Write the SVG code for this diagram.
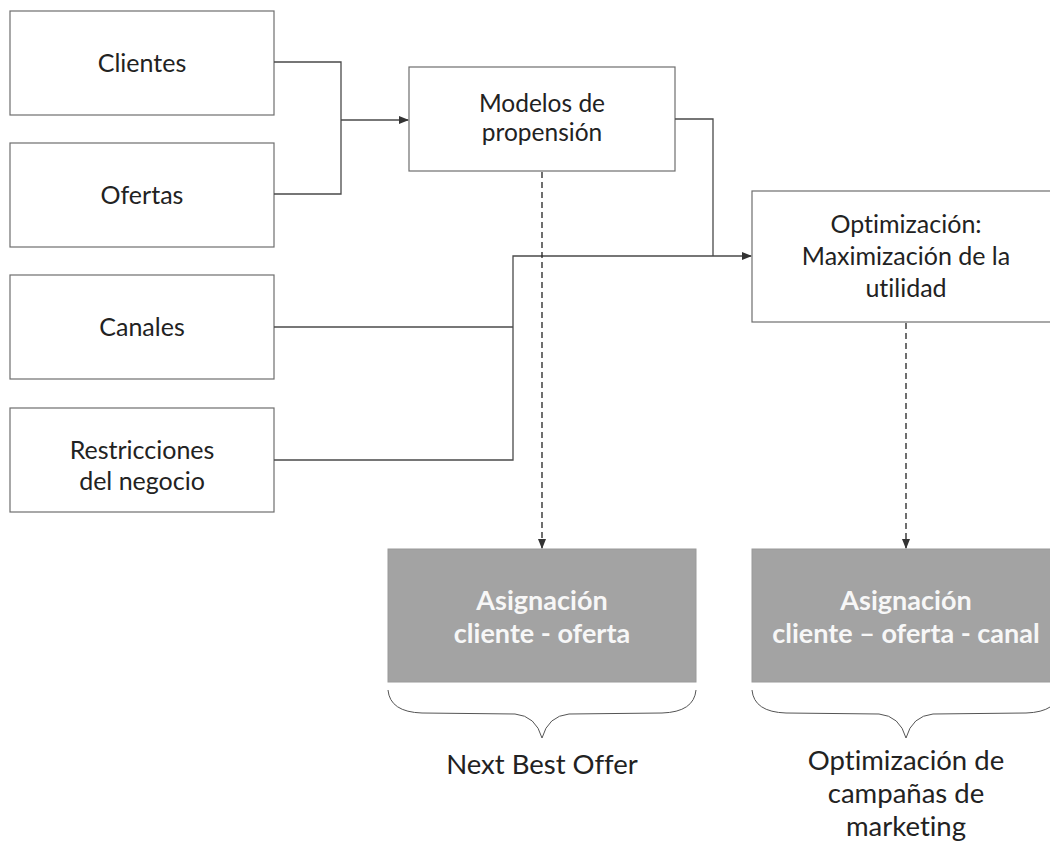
<svg xmlns="http://www.w3.org/2000/svg" width="1050" height="844" viewBox="0 0 1050 844">
<defs>
<style>
text{font-variant-ligatures:none;font-feature-settings:"liga" 0,"dlig" 0}
.box{fill:#ffffff;stroke:#6e6e6e;stroke-width:1.2}
.gbox{fill:#a3a3a3;stroke:#9a9a9a;stroke-width:1}
.t{font-family:Lato,"Open Sans",sans-serif;font-size:25px;fill:#222;text-anchor:middle}
.m{font-size:24.5px}
.g{font-family:Lato,"Open Sans",sans-serif;font-size:27px;font-weight:700;fill:#f7f7f7;text-anchor:middle}
.b{font-family:Lato,"Open Sans",sans-serif;font-size:27.5px;fill:#222;text-anchor:middle}
.ln{fill:none;stroke:#4a4a4a;stroke-width:1.3}
.dash{fill:none;stroke:#222;stroke-width:1.3;stroke-dasharray:6,4}
.brace{fill:none;stroke:#555;stroke-width:1}
</style>
<marker id="ah" markerWidth="10" markerHeight="8" refX="9" refY="4" orient="auto" markerUnits="userSpaceOnUse">
<path d="M0,0 L10,4 L0,8 Z" fill="#333"/>
</marker>
</defs>
<rect width="1050" height="844" fill="#ffffff"/>

<g id="clientes"><rect class="box" x="10" y="11" width="264" height="104"/><text class="t" x="142" y="72">Clientes</text></g>
<g id="ofertas"><rect class="box" x="10" y="143" width="264" height="104"/><text class="t" x="142" y="204">Ofertas</text></g>
<g id="canales"><rect class="box" x="10" y="275" width="264" height="104"/><text class="t" x="142" y="336">Canales</text></g>
<g id="restricciones"><rect class="box" x="10" y="408" width="264" height="104"/><text class="t" x="142" y="459">Restricciones</text><text class="t" x="142" y="490">del negocio</text></g>
<g id="modelos"><rect class="box" x="409" y="67" width="266" height="104"/><text class="t m" x="542" y="112">Modelos de</text><text class="t m" x="542" y="141">propensión</text></g>
<g id="optimizacion"><rect class="box" x="752" y="191" width="310" height="131"/><text class="t" x="906" y="233">Optimización:</text><text class="t" x="906" y="265">Maximización de la</text><text class="t" x="906" y="297">utilidad</text></g>
<g id="asig1"><rect class="gbox" x="388" y="549" width="308" height="133"/><text class="g" x="542" y="610">Asignación</text><text class="g" x="542" y="643">cliente - oferta</text></g>
<g id="asig2"><rect class="gbox" x="752" y="549" width="310" height="133"/><text class="g" x="906" y="610">Asignación</text><text class="g" x="906" y="643">cliente – oferta - canal</text></g>
<g id="nbo"><path class="brace" d="M388,690 Q390,712 422,713 L515,714 Q536,716 542,738 Q548,716 569,714 L662,713 Q694,712 696,690"/><text class="b" x="542" y="774">Next Best Offer</text></g>
<g id="campanas"><path class="brace" d="M752,690 Q754,712 786,713 L879,714 Q900,716 906,738 Q912,716 933,714 L1026,713 Q1058,712 1060,690"/><text class="b" x="906" y="770">Optimización de</text><text class="b" x="906" y="803">campañas de</text><text class="b" x="906" y="836">marketing</text></g>

<g id="connectors">
<polyline class="ln" points="274,62 341,62 341,194 274,194"/>
<line class="ln" x1="341" y1="120" x2="408" y2="120" stroke-width="2.2" marker-end="url(#ah)"/>
<polyline class="ln" points="675,119 713,119 713,256"/>
<line class="ln" x1="274" y1="327" x2="513" y2="327"/>
<polyline class="ln" points="274,460 513,460 513,256 751,256" marker-end="url(#ah)"/>
<line class="dash" x1="542" y1="172" x2="542" y2="548" marker-end="url(#ah)"/>
<line class="dash" x1="906" y1="323" x2="906" y2="548" marker-end="url(#ah)"/>
</g>
</svg>
